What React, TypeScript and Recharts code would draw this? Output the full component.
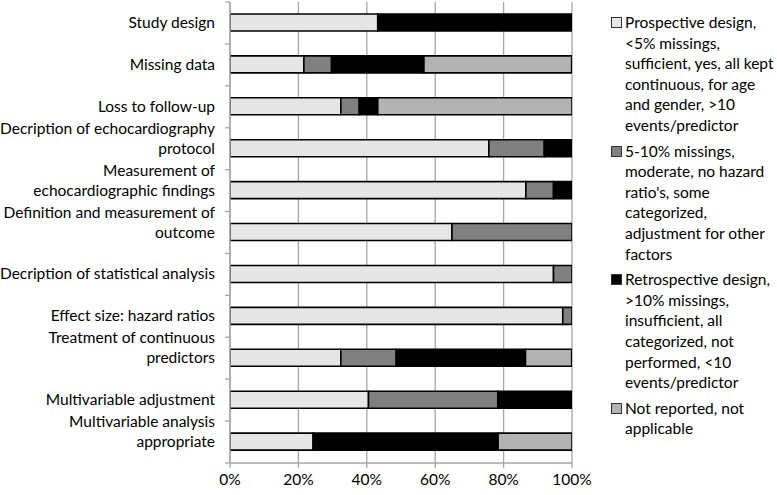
import React from 'react'
import { BarChart, Bar, XAxis, YAxis, CartesianGrid } from 'recharts'

const categories = [
  'Study design',
  'Missing data',
  'Loss to follow-up',
  'Decription of echocardiography\nprotocol',
  'Measurement of\nechocardiographic findings',
  'Definition and measurement of\noutcome',
  'Decription of statistical analysis',
  'Effect size: hazard ratios',
  'Treatment of continuous\npredictors',
  'Multivariable adjustment',
  'Multivariable analysis\nappropriate',
]
const prospective = [43.2, 21.6, 32.4, 75.7, 86.5, 64.9, 94.6, 97.3, 32.4, 40.5, 24.3]
const moderate = [0, 8.1, 5.4, 16.2, 8.1, 35.1, 5.4, 2.7, 16.2, 37.8, 0]
const retrospective = [56.8, 27.0, 5.4, 8.1, 5.4, 0, 0, 0, 37.8, 21.6, 54.1]
const notReported = [0, 43.2, 56.8, 0, 0, 0, 0, 0, 13.5, 0, 21.6]
const xTicks = [0, 20, 40, 60, 80, 100]

const seriesKeys = ['prospective', 'moderate', 'retrospective', 'notReported']
const seriesColors = ['#e6e6e6', '#808080', '#000000', '#b3b3b3']
const seriesLabels = [
  'Prospective design,\n<5% missings,\nsufficient, yes, all kept\ncontinuous, for age\nand gender, >10\nevents/predictor',
  '5-10% missings,\nmoderate, no hazard\nratio\'s, some\ncategorized,\nadjustment for other\nfactors',
  'Retrospective design,\n>10% missings,\ninsufficient, all\ncategorized, not\nperformed, <10\nevents/predictor',
  'Not reported, not\napplicable',
]

const data = categories.map((name, i) => ({
  name,
  prospective: prospective[i],
  moderate: moderate[i],
  retrospective: retrospective[i],
  notReported: notReported[i],
}))

const FONT = 'Lato, "Open Sans", sans-serif'
const FS = 15.5
const W = 777
const H = 495
const TOP = 2
const AXIS_H = 32
const Y_W = 230
const RIGHT = 205
const band = (H - TOP - AXIS_H) / categories.length

function CatTick(props: any) {
  const { y, payload, index } = props
  const lines = String(payload.value).split('\n')
  const n = lines.length
  return (
    <g>
      <line x1={Y_W - 5} x2={Y_W} y1={y - band / 2} y2={y - band / 2} stroke="#a6a6a6" strokeWidth={1.3} />
      {index === categories.length - 1 && (
        <line x1={Y_W - 5} x2={Y_W} y1={y + band / 2} y2={y + band / 2} stroke="#a6a6a6" strokeWidth={1.3} />
      )}
      <text x={Y_W - 15} y={y + 5} textAnchor="end" fill="#000" fontSize={FS} fontFamily={FONT}>
        {lines.map((l, k) => (
          <tspan key={k} x={Y_W - 15} y={y + 5 - (n - 1 - k) * 20}>{l}</tspan>
        ))}
      </text>
    </g>
  )
}

export default function App() {
  return (
    <div style={{ position: 'absolute', left: 0, top: 0, width: W, height: H, background: '#fff', fontFamily: FONT }}>
      <BarChart width={W} height={H} data={data} layout="vertical" barSize={17}
        margin={{ top: TOP, right: RIGHT, bottom: 0, left: 0 }}>
        <CartesianGrid horizontal={false} stroke="#a6a6a6" strokeWidth={1.3} />
        <XAxis type="number" domain={[0, 100]} ticks={xTicks} allowDataOverflow height={AXIS_H}
          tickFormatter={(v: number) => `${v}%`} stroke="#a6a6a6" strokeWidth={1.3} tickSize={5} tickMargin={6}
          tick={{ fill: '#000', fontSize: FS, fontFamily: FONT }} />
        <YAxis type="category" dataKey="name" width={Y_W} stroke="#a6a6a6" strokeWidth={1.3}
          tickLine={false} tick={<CatTick />} interval={0} />
        {seriesKeys.map((k, i) => (
          <Bar key={k} dataKey={k} stackId="a" fill={seriesColors[i]} stroke="#000" strokeWidth={1.6}
            isAnimationActive={false} />
        ))}
      </BarChart>
      <div style={{ position: 'absolute', left: 611, top: 12, width: 166 }}>
        {seriesLabels.map((label, i) => (
          <div key={i} style={{ position: 'relative', marginBottom: 5, paddingLeft: 14 }}>
            <div style={{ position: 'absolute', left: 0, top: 5, width: 9, height: 9,
              border: '1.5px solid #333', background: seriesColors[i] }} />
            <div style={{ fontSize: FS, lineHeight: '20.6px', whiteSpace: 'pre', color: '#000' }}>{label}</div>
          </div>
        ))}
      </div>
    </div>
  )
}
